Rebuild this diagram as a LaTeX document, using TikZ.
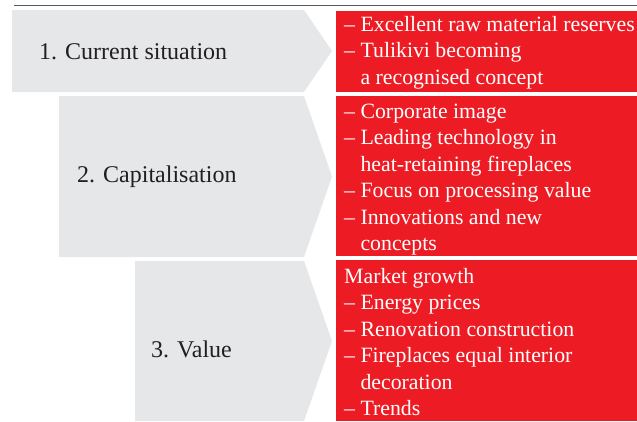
\documentclass[tikz,border=0pt]{standalone}
\usepackage{fontspec}
\setmainfont{Liberation Serif}
\definecolor{chevgray}{HTML}{E6E7E8}
\definecolor{boxred}{HTML}{ED1C24}
\definecolor{labeldark}{HTML}{231F20}
\definecolor{rulegray}{HTML}{58595B}
\tikzset{
  steplabel/.style={anchor=base west, inner sep=0pt, text=labeldark, font=\fontsize{24}{28}\selectfont},
  boxtext/.style={anchor=base west, inner sep=0pt, align=left, text=white, font=\fontsize{21.8}{26.5}\selectfont},
}
\newcommand{\ind}{\phantom{– }}
\begin{document}
\begin{tikzpicture}[x=1pt,y=-1pt]
\useasboundingbox (0,0) rectangle (637,421);
% rule at the top
\coordinate (ruleL) at (14,5.5);
\coordinate (ruleR) at (637,5.5);
\draw[rulegray, line width=1.4pt] (ruleL) -- (ruleR);
% grey chevrons
\fill[chevgray] (12,10) -- (304,10) -- (332,51) -- (304,92) -- (12,92) -- cycle;
\fill[chevgray] (59,96) -- (304,96) -- (332,176.5) -- (304,257) -- (59,257) -- cycle;
\fill[chevgray] (135,261) -- (304,261) -- (332,341) -- (304,421) -- (135,421) -- cycle;
% red boxes
\fill[boxred] (336,11) rectangle (637,92);
\fill[boxred] (336,96) rectangle (637,256);
\fill[boxred] (336,260) rectangle (637,421);
% step labels
\node[steplabel] (lab1) at (39,59) {1. Current situation};
\node[steplabel] (lab2) at (77,182) {2. Capitalisation};
\node[steplabel] (lab3) at (151,357) {3. Value};
% box texts (anchored at the last line)
\node[boxtext] (txt1) at (344,84) {– Excellent raw material reserves\\– Tulikivi becoming\\\ind a recognised concept};
\node[boxtext] (txt2) at (344,250.5) {– Corporate image\\– Leading technology in\\\ind heat-retaining fireplaces\\– Focus on processing value\\– Innovations and new\\\ind concepts};
\node[boxtext] (txt3) at (344,415.5) {Market growth\\– Energy prices\\– Renovation construction\\– Fireplaces equal interior\\\ind decoration\\– Trends};
\end{tikzpicture}
\end{document}
